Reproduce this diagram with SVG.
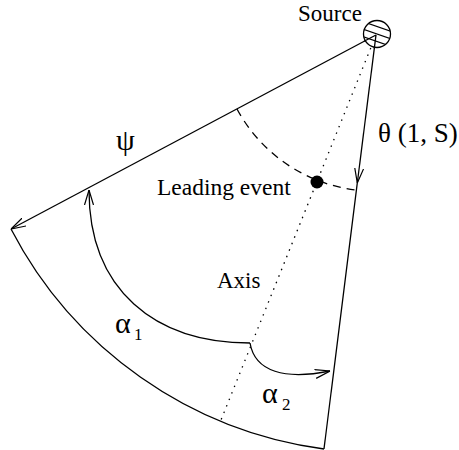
<svg xmlns="http://www.w3.org/2000/svg" width="459" height="450" viewBox="0 0 459 450">
<style>
.ln{fill:none;stroke:#000;stroke-width:1.3}
.t{font-family:"Liberation Serif","Times New Roman",serif;fill:#000}
</style>
<defs>
<marker id="arr" viewBox="0 0 15 10" refX="15" refY="5" markerWidth="15" markerHeight="10" markerUnits="userSpaceOnUse" orient="auto">
<path d="M0,0.5 L15,5 L0,9.5" fill="none" stroke="#000" stroke-width="1.2"/>
</marker>
<clipPath id="cc"><circle cx="377" cy="34" r="13.5"/></clipPath>
</defs>
<rect width="459" height="450" fill="#fff"/>
<g id="connectors">
<path class="ln" d="M376,35 L11,229" marker-end="url(#arr)"/>
<path class="ln" d="M376,35 L357.3,183" marker-end="url(#arr)"/>
<path class="ln" d="M357.3,183 L324,449"/>
<path class="ln" d="M11,229 A415,415 0 0 0 324,449"/>
<path class="ln" d="M237,109 A156,156 0 0 0 356,190" stroke-dasharray="8 6"/>
<path class="ln" d="M376,35 L221,420" stroke-dasharray="1.5 5.5" stroke-width="1.5"/>
<path class="ln" d="M250,343 C155,343 89,290 89,190" marker-end="url(#arr)"/>
<path class="ln" d="M250,343 C255,372 285,380 330,371" marker-end="url(#arr)"/>
</g>
<g id="source">
<circle cx="377" cy="34" r="13.5" fill="#fff" stroke="#000" stroke-width="1.3"/>
<g clip-path="url(#cc)" stroke="#000" stroke-width="1.1">
<line x1="360" y1="20.5" x2="395" y2="32.7"/>
<line x1="360" y1="28" x2="395" y2="40.2"/>
<line x1="360" y1="35.5" x2="395" y2="47.7"/>
</g>
<path class="ln" d="M376,35 L364.1,41.3 M376,35 L374.3,48.4"/>
<text class="t" x="298" y="21" font-size="23">Source</text>
</g>
<g id="leading-event">
<circle cx="317" cy="182" r="6.5" fill="#000"/>
<text class="t" x="157" y="195" font-size="23.5">Leading event</text>
</g>
<g id="labels">
<text class="t" x="116" y="150" font-size="30">ψ</text>
<text class="t" x="378" y="142" font-size="27">θ (1, S)</text>
<text class="t" x="217" y="288" font-size="23">Axis</text>
<text class="t" x="115" y="333" font-size="30">α</text>
<text class="t" x="134" y="340" font-size="17">1</text>
<text class="t" x="262" y="403" font-size="30">α</text>
<text class="t" x="282" y="410" font-size="17">2</text>
</g>
</svg>
